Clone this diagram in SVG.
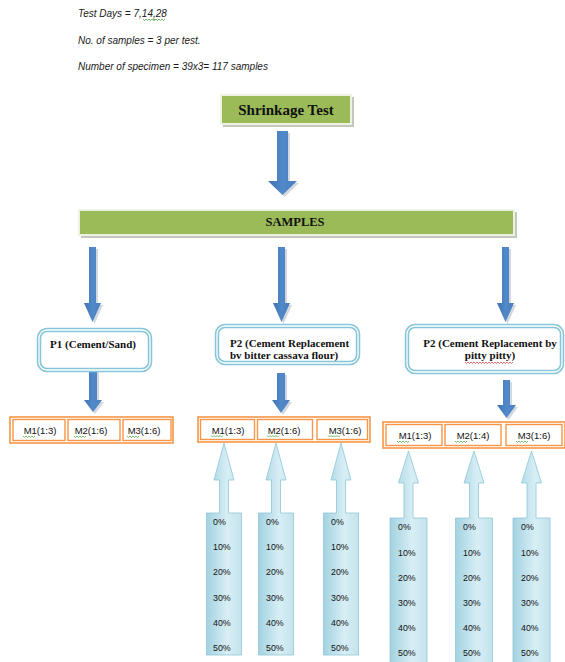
<svg xmlns="http://www.w3.org/2000/svg" xmlns:xlink="http://www.w3.org/1999/xlink" width="565" height="662" viewBox="0 0 565 662">
<defs>
<style>
.note{font-family:"Liberation Sans",Arial,sans-serif;font-style:italic;font-size:10px;fill:#1a1a1a}
.title{font-family:"Liberation Serif","Times New Roman",serif;font-weight:bold;fill:#111}
.ptxt{font-family:"Liberation Serif","Times New Roman",serif;font-weight:bold;font-size:11px;fill:#111}
.mtxt{font-family:"Liberation Sans",Arial,sans-serif;font-size:9.5px;fill:#111;text-anchor:middle}
.pct{font-family:"Liberation Sans",Arial,sans-serif;font-size:8.8px;fill:#111}
.green{fill:#9BBB59;stroke:#eef2e4;stroke-width:2}
.gshadow{fill:#c4c7bd}
.pbox{fill:#fff;stroke:#86c6d8;stroke-width:4.5}
.pinner{fill:none;stroke:#fff;stroke-width:1.3}
.mout{fill:#fff;stroke:#F79646;stroke-width:1.6}
.min{fill:none;stroke:#F79646;stroke-width:1.4}
.dshadow{fill:#d3d8e0}
.down{fill:url(#dg)}
.up{fill:url(#ug);stroke:#8fc6d7;stroke-width:0.8}
.sq{fill:none;stroke:#3aa12c;stroke-width:0.7}
.sqr{fill:none;stroke:#d9302c;stroke-width:0.7}
</style>
<linearGradient id="dg" x1="0" y1="0" x2="1" y2="0">
<stop offset="0" stop-color="#3f72b3"/><stop offset="0.5" stop-color="#5289c9"/><stop offset="1" stop-color="#4a7fbf"/>
</linearGradient>
<linearGradient id="ug" x1="0" y1="0" x2="1" y2="0">
<stop offset="0" stop-color="#a2d2e1"/><stop offset="0.6" stop-color="#d8eef5"/><stop offset="1" stop-color="#c3e3ed"/>
</linearGradient>
<path id="upM" d="M0,443 L10,480 L4.5,480 L4.5,513 L17.5,513 L17.5,655 L-17.5,655 L-17.5,513 L-4.5,513 L-4.5,480 L-10,480 Z"/>
<path id="upR" d="M0,451 L10,483 L4.5,483 L4.5,518 L18.5,518 L18.5,668 L-18.5,668 L-18.5,518 L-4.5,518 L-4.5,483 L-10,483 Z"/>
<path id="sqg" d="M0,0 l1.5,1.5 l1.5,-1.5 l1.5,1.5 l1.5,-1.5 l1.5,1.5 l1.5,-1.5 l1.5,1.5 l1.5,-1.5" class="sq"/>
</defs>
<rect width="565" height="662" fill="#fff"/>

<g id="notes">
<text class="note" x="78" y="17">Test Days = 7,14,28</text>
<use href="#sqg" x="143" y="19"/><use href="#sqg" x="153" y="19"/>
<text class="note" x="78" y="44">No. of samples = 3 per test.</text>
<text class="note" x="78" y="70">Number of specimen = 39x3= 117 samples</text>
</g>

<g id="connectors">
<polygon class="dshadow" points="279,133 290,133 290,183 299,183 284.5,197 270,183 279,183"/>
<polygon class="down" points="277,131 288,131 288,181 297,181 282.5,195 268,181 277,181"/>
<polygon class="dshadow" points="91,249 98,249 98,305 103,305 94.5,324 86,305 91,305"/>
<polygon class="down" points="89,247 96,247 96,303 101,303 92.5,322 84,303 89,303"/>
<polygon class="dshadow" points="280,249 287,249 287,305 292,305 283.5,324 275,305 280,305"/>
<polygon class="down" points="278,247 285,247 285,303 290,303 281.5,322 273,303 278,303"/>
<polygon class="dshadow" points="504,249 511,249 511,305 516,305 507.5,324 499,305 504,305"/>
<polygon class="down" points="502,247 509,247 509,303 514,303 505.5,322 497,303 502,303"/>
<polygon class="dshadow" points="91,369 99,369 99,402 104,402 95,414 86,402 91,402"/>
<polygon class="down" points="89,367 97,367 97,400 102,400 93,412 84,400 89,400"/>
<polygon class="dshadow" points="279,375 287,375 287,402 292,402 283,415 274,402 279,402"/>
<polygon class="down" points="277,373 285,373 285,400 290,400 281,413 272,400 277,400"/>
<polygon class="dshadow" points="505,382 512,382 512,407 518,407 508.5,420 499,407 505,407"/>
<polygon class="down" points="503,380 510,380 510,405 516,405 506.5,418 497,405 503,405"/>
<use href="#upM" x="224" class="up"/>
<use href="#upM" x="276" class="up"/>
<use href="#upM" x="341" class="up"/>
<use href="#upR" x="408.5" class="up"/>
<use href="#upR" x="474" class="up"/>
<use href="#upR" x="531.5" class="up"/>
</g>

<g id="shrinkage-test">
<rect class="gshadow" x="223" y="97" width="131" height="30"/>
<rect class="green" x="221" y="95" width="130" height="29"/>
<text class="title" x="286" y="115" font-size="15" text-anchor="middle">Shrinkage Test</text>
</g>

<g id="samples">
<rect class="gshadow" x="81" y="212" width="436" height="26"/>
<rect class="green" x="79" y="210" width="435" height="25"/>
<text class="title" x="295" y="226" font-size="12.5" text-anchor="middle">SAMPLES</text>
</g>

<g id="p1">
<rect class="pbox" x="39" y="330" width="111" height="40" rx="8"/>
<rect class="pinner" x="39" y="330" width="111" height="40" rx="8"/>
<text class="ptxt" x="93" y="348" text-anchor="middle">P1 (Cement/Sand)</text>
</g>

<g id="p2-cassava">
<rect class="pbox" x="217" y="326" width="141" height="37" rx="8"/>
<rect class="pinner" x="217" y="326" width="141" height="37" rx="8"/>
<text class="ptxt" x="230" y="347">P2 (Cement Replacement</text>
<text class="ptxt" x="230" y="359">bv bitter cassava flour)</text>
</g>

<g id="p2-pitty">
<rect class="pbox" x="407" y="326" width="155" height="46" rx="8"/>
<rect class="pinner" x="407" y="326" width="155" height="46" rx="8"/>
<text class="ptxt" x="490" y="347" text-anchor="middle">P2 (Cement Replacement by</text>
<text class="ptxt" x="490" y="359" text-anchor="middle">pitty pitty)</text>
<path class="sqr" d="M465,362 l1.5,1.5 l1.5,-1.5 l1.5,1.5 l1.5,-1.5 l1.5,1.5 l1.5,-1.5 l1.5,1.5 l1.5,-1.5 l1.5,1.5 l1.5,-1.5 l1.5,1.5 l1.5,-1.5 l1.5,1.5 l1.5,-1.5 l1.5,1.5 l1.5,-1.5 l1.5,1.5 l1.5,-1.5 l1.5,1.5 l1.5,-1.5 l1.5,1.5 l1.5,-1.5 l1.5,1.5 l1.5,-1.5 l1.5,1.5 l1.5,-1.5 l1.5,1.5 l1.5,-1.5 l1.5,1.5 l1.5,-1.5 l1.5,1.5 l1.5,-1.5"/>
</g>

<g id="m-row-p1">
<rect class="mout" x="10" y="417" width="163" height="26"/>
<rect class="min" x="13" y="419.5" width="52" height="21"/>
<rect class="min" x="68" y="419.5" width="52" height="21"/>
<rect class="min" x="123" y="419.5" width="48" height="21"/>
<text class="mtxt" x="40" y="434">M1(1:3)</text>
<text class="mtxt" x="91" y="434">M2(1:6)</text>
<text class="mtxt" x="144" y="434">M3(1:6)</text>
<use href="#sqg" x="23" y="436"/><use href="#sqg" x="74" y="436"/><use href="#sqg" x="127" y="436"/>
</g>

<g id="m-row-p2-cassava">
<rect class="mout" x="198" y="417" width="172" height="25"/>
<rect class="min" x="200.5" y="419.5" width="54" height="20"/>
<rect class="min" x="257.5" y="419.5" width="55" height="20"/>
<rect class="min" x="317" y="419.5" width="50.5" height="20"/>
<text class="mtxt" x="228" y="433.5">M1(1:3)</text>
<text class="mtxt" x="284" y="433.5">M2(1:6)</text>
<text class="mtxt" x="345" y="433.5">M3(1:6)</text>
<use href="#sqg" x="211" y="435.5"/><use href="#sqg" x="267" y="435.5"/><use href="#sqg" x="328" y="435.5"/>
</g>

<g id="m-row-p2-pitty">
<rect class="mout" x="383" y="422" width="182" height="26"/>
<rect class="min" x="386" y="424.5" width="56" height="21"/>
<rect class="min" x="445" y="424.5" width="56" height="21"/>
<rect class="min" x="506" y="424.5" width="56" height="21"/>
<text class="mtxt" x="415" y="439">M1(1:3)</text>
<text class="mtxt" x="473" y="439">M2(1:4)</text>
<text class="mtxt" x="534" y="439">M3(1:6)</text>
<use href="#sqg" x="397" y="441"/><use href="#sqg" x="455" y="441"/><use href="#sqg" x="516" y="441"/>
</g>

<g id="pct-middle">
<text class="pct" x="213" y="525">0%</text><text class="pct" x="213" y="550">10%</text><text class="pct" x="213" y="575">20%</text><text class="pct" x="213" y="600.5">30%</text><text class="pct" x="213" y="625.5">40%</text><text class="pct" x="213" y="651">50%</text>
<text class="pct" x="266" y="525">0%</text><text class="pct" x="266" y="550">10%</text><text class="pct" x="266" y="575">20%</text><text class="pct" x="266" y="600.5">30%</text><text class="pct" x="266" y="625.5">40%</text><text class="pct" x="266" y="651">50%</text>
<text class="pct" x="331" y="525">0%</text><text class="pct" x="331" y="550">10%</text><text class="pct" x="331" y="575">20%</text><text class="pct" x="331" y="600.5">30%</text><text class="pct" x="331" y="625.5">40%</text><text class="pct" x="331" y="651">50%</text>
</g>

<g id="pct-right">
<text class="pct" x="398" y="530">0%</text><text class="pct" x="398" y="556">10%</text><text class="pct" x="398" y="581">20%</text><text class="pct" x="398" y="606">30%</text><text class="pct" x="398" y="631">40%</text><text class="pct" x="398" y="656">50%</text>
<text class="pct" x="463" y="530">0%</text><text class="pct" x="463" y="556">10%</text><text class="pct" x="463" y="581">20%</text><text class="pct" x="463" y="606">30%</text><text class="pct" x="463" y="631">40%</text><text class="pct" x="463" y="656">50%</text>
<text class="pct" x="521" y="530">0%</text><text class="pct" x="521" y="556">10%</text><text class="pct" x="521" y="581">20%</text><text class="pct" x="521" y="606">30%</text><text class="pct" x="521" y="631">40%</text><text class="pct" x="521" y="656">50%</text>
</g>
</svg>
